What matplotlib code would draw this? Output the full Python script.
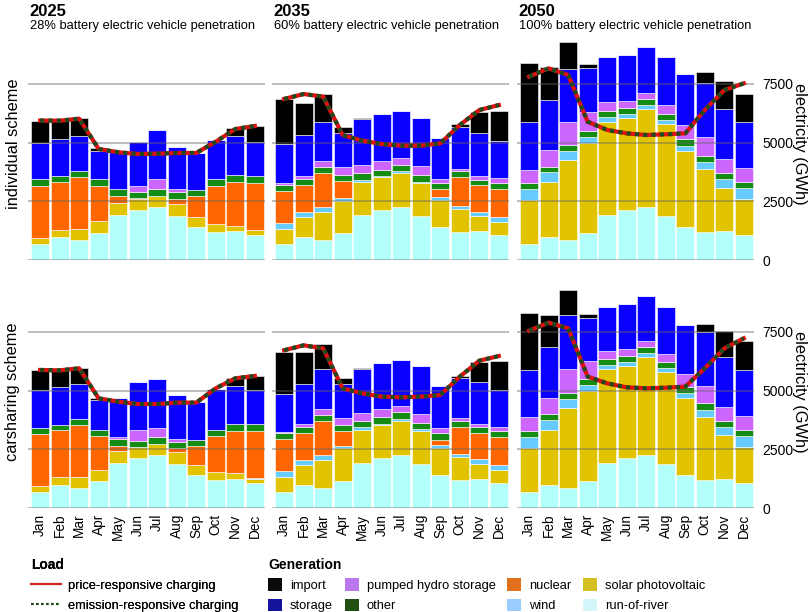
import numpy as np
import matplotlib
matplotlib.use("Agg")
import matplotlib.pyplot as plt
from matplotlib.lines import Line2D
from matplotlib.patches import Patch

plt.rcParams["font.family"] = ["Liberation Sans", "DejaVu Sans"]

months = ["Jan", "Feb", "Mar", "Apr", "May", "Jun",
          "Jul", "Aug", "Sep", "Oct", "Nov", "Dec"]
years = ["2025", "2035", "2050"]
subtitles = ["28% battery electric vehicle penetration",
             "60% battery electric vehicle penetration",
             "100% battery electric vehicle penetration"]
schemes = ["individual scheme", "carsharing scheme"]

# stacking order, bottom to top
sources = ["run-of-river", "solar photovoltaic", "wind", "nuclear",
           "other", "pumped hydro storage", "storage", "import"]
bar_colors = ["#b3fffb", "#e2c300", "#66ccff", "#ff6600",
              "#148c14", "#cc66ff", "#0a00ff", "#000000"]
legend_colors = {"import": "#0a0a0a", "storage": "#14149a",
                 "pumped hydro storage": "#bb77ee", "other": "#1f5012",
                 "nuclear": "#e0701c", "wind": "#99ccff",
                 "solar photovoltaic": "#d4c020", "run-of-river": "#d4f6fa"}

run_of_river = [680, 990, 866, 1164, 1917, 2116, 2244, 1889, 1420, 1193, 1235, 1051]
zeros = [0] * 12

# individual scheme, 2025
ind25_solar = [240, 284, 440, 497, 497, 483, 497, 482, 412, 326, 228, 213]
ind25_wind = [20, 15, 0, 0, 0, 0, 0, 0, 0, 0, 0, 28]
ind25_nuclear = [2220, 2030, 2216, 1491, 312, 28, 0, 242, 880, 1648, 1874, 2002]
ind25_other = [270, 241, 269, 284, 284, 270, 284, 284, 270, 269, 284, 284]
ind25_pumped = [0, 0, 0, 0, 0, 255, 426, 128, 0, 0, 0, 0]
ind25_storage = [1575, 1605, 1491, 1222, 1633, 1889, 2073, 1803, 1590, 1676, 1647, 1435]
ind25_import = [924, 782, 753, 127, 0, 0, 0, 0, 0, 0, 341, 681]
ind25_load = [5940, 5935, 6020, 4730, 4590, 4515, 4530, 4560, 4560, 5040, 5580, 5710]

# individual scheme, 2035
ind35_solar = [655, 838, 1193, 1349, 1406, 1406, 1476, 1377, 1136, 965, 654, 554]
ind35_wind = [241, 198, 199, 128, 85, 56, 57, 71, 114, 128, 170, 213]
ind35_nuclear = [1363, 1179, 1448, 724, 0, 0, 0, 0, 340, 1236, 1122, 1192]
ind35_other = [256, 227, 256, 270, 284, 256, 270, 270, 256, 255, 241, 256]
ind35_pumped = [85, 156, 255, 313, 355, 383, 312, 397, 185, 114, 171, 213]
ind35_storage = [1662, 1719, 1676, 1448, 1960, 2003, 1974, 2045, 1746, 1761, 1803, 1590]
ind35_import = [1917, 1377, 1164, 284, 28, 0, 0, 0, 0, 142, 895, 1293]
ind35_load = [6860, 7070, 6960, 5325, 5085, 4940, 4870, 4870, 4970, 5750, 6390, 6600]

# individual scheme, 2050
ind50_solar = [1876, 2329, 3394, 3820, 3976, 3947, 4174, 3905, 3238, 2669, 1846, 1533]
ind50_wind = [469, 411, 383, 256, 213, 171, 171, 156, 213, 313, 355, 483]
ind50_other = [269, 242, 256, 255, 256, 255, 255, 255, 269, 270, 270, 256]
ind50_pumped = [540, 696, 966, 796, 383, 299, 284, 398, 611, 781, 582, 596]
ind50_storage = [2059, 2158, 2272, 1902, 1903, 1945, 1946, 2031, 2158, 2300, 2145, 1946]
ind50_import = [2485, 1392, 1136, 157, 0, 0, 0, 0, 0, 469, 1207, 1221]
ind50_load = [7810, 8165, 7880, 5890, 5540, 5395, 5325, 5355, 5395, 6390, 7240, 7525]

# carsharing scheme, 2025
car25_solar = [240, 310, 438, 466, 495, 466, 494, 480, 410, 339, 255, 198]
car25_wind = [15, 10, 0, 0, 0, 0, 0, 0, 0, 0, 0, 28]
car25_nuclear = [2230, 2005, 2217, 1454, 240, 28, 0, 184, 819, 1539, 1807, 2019]
car25_other = [254, 240, 254, 240, 268, 240, 269, 268, 254, 268, 268, 268]
car25_pumped = [0, 0, 0, 0, 85, 452, 409, 127, 0, 0, 0, 0]
car25_storage = [1609, 1596, 1498, 1297, 1692, 2064, 2078, 1849, 1592, 1723, 1653, 1483]
car25_import = [852, 725, 682, 85, 0, 0, 0, 0, 0, 0, 313, 596]
car25_load = [5880, 5865, 5950, 4670, 4530, 4430, 4430, 4490, 4490, 5100, 5525, 5625]

# carsharing scheme, 2035
car35_solar = [655, 838, 1193, 1378, 1420, 1406, 1462, 1391, 1150, 965, 654, 568]
car35_wind = [241, 198, 199, 113, 99, 71, 100, 71, 128, 157, 184, 227]
car35_nuclear = [1363, 1179, 1448, 625, 0, 0, 0, 0, 213, 1150, 1108, 1164]
car35_other = [270, 256, 270, 256, 270, 269, 269, 284, 270, 255, 270, 256]
car35_pumped = [40, 127, 255, 312, 327, 341, 270, 384, 241, 100, 142, 199]
car35_storage = [1607, 1704, 1676, 1449, 1903, 1974, 1946, 2030, 1775, 1732, 1789, 1562]
car35_import = [1790, 1364, 1079, 255, 40, 0, 0, 0, 0, 57, 823, 1221]
car35_load = [6720, 6930, 6800, 5100, 4885, 4745, 4715, 4745, 4815, 5595, 6275, 6475]

# carsharing scheme, 2050
car50_solar = [1862, 2343, 3408, 3820, 3990, 3947, 4174, 3919, 3252, 2698, 1861, 1562]
car50_wind = [497, 426, 384, 270, 185, 171, 171, 156, 213, 298, 355, 454]
car50_other = [255, 227, 255, 256, 255, 241, 255, 270, 255, 270, 255, 256]
car50_pumped = [568, 696, 1008, 752, 341, 298, 270, 341, 554, 738, 582, 610]
car50_storage = [2017, 2158, 2287, 1818, 1889, 1903, 1917, 2002, 2088, 2301, 2145, 1960]
car50_import = [2414, 1378, 1079, 170, 0, 0, 0, 0, 0, 326, 1121, 1221]
car50_load = [7555, 7895, 7655, 5595, 5310, 5140, 5100, 5125, 5170, 5950, 6800, 7230]

panels = [
    [([run_of_river, ind25_solar, ind25_wind, ind25_nuclear, ind25_other,
       ind25_pumped, ind25_storage, ind25_import], ind25_load),
     ([run_of_river, ind35_solar, ind35_wind, ind35_nuclear, ind35_other,
       ind35_pumped, ind35_storage, ind35_import], ind35_load),
     ([run_of_river, ind50_solar, ind50_wind, zeros, ind50_other,
       ind50_pumped, ind50_storage, ind50_import], ind50_load)],
    [([run_of_river, car25_solar, car25_wind, car25_nuclear, car25_other,
       car25_pumped, car25_storage, car25_import], car25_load),
     ([run_of_river, car35_solar, car35_wind, car35_nuclear, car35_other,
       car35_pumped, car35_storage, car35_import], car35_load),
     ([run_of_river, car50_solar, car50_wind, zeros, car50_other,
       car50_pumped, car50_storage, car50_import], car50_load)],
]

fig = plt.figure(figsize=(8.1, 6.12), dpi=100)

lefts = [28 / 810, 272 / 810, 517 / 810]
bottoms = [1 - 260 / 612, 1 - 508 / 612]
width = 237 / 810
height = 223 / 612
x = np.arange(12)
gridvals = [0, 2500, 5000, 7500]

for r in range(2):
    for c in range(3):
        stack, load = panels[r][c]
        ax = fig.add_axes([lefts[c], bottoms[r], width, height])
        base = np.zeros(12)
        for vals, col in zip(stack, bar_colors):
            vals = np.array(vals, dtype=float)
            ax.bar(x, vals, 0.92, bottom=base, color=col,
                   edgecolor="white", linewidth=0.4, zorder=2)
            base += vals
        for g in gridvals:
            ax.axhline(g, color="#666666", alpha=0.5, lw=1.2, zorder=3)
        ax.plot(x, load, color="#e01010", lw=3, zorder=4)
        ax.plot(x, load, color="#1f4a1f", lw=3, ls=(0, (1, 1)), zorder=5)

        ax.set_xlim(-0.62, 11.52)
        ax.set_ylim(0, 9500)
        for s in ax.spines.values():
            s.set_visible(False)
        ax.set_xticks(x)
        if r == 1:
            ax.set_xticklabels(months, rotation=90, fontsize=9.8)
        else:
            ax.set_xticklabels([])
        ax.tick_params(axis="x", length=0, pad=4)
        if c == 2:
            ax.yaxis.tick_right()
            ax.set_yticks(gridvals)
            ax.set_yticklabels([str(g) for g in gridvals], fontsize=10)
            ax.tick_params(axis="y", length=0, pad=6)
            fig.text(799 / 810, bottoms[r] + height * 0.52, "electricity (GWh)",
                     rotation=270, fontsize=11.8, ha="center", va="center")
        else:
            ax.set_yticks([])
        if r == 0:
            fig.text(lefts[c] + 1 / 810, 1 - 12 / 612, years[c],
                     fontsize=12, fontweight="bold", va="center")
            fig.text(lefts[c] + 2 / 810, 1 - 26 / 612, subtitles[c],
                     fontsize=9.3, va="center")
        if c == 0:
            fig.text(13 / 810, bottoms[r] + height * 0.52, schemes[r],
                     rotation=90, fontsize=11.8, ha="center", va="center")

# legends
load_handles = [Line2D([], [], color="#cc2222", lw=1.5),
                Line2D([], [], color="#1f4a1f", lw=1.5, ls=(0, (1.2, 1.2)))]
leg1 = fig.legend(load_handles,
                  ["price-responsive charging", "emission-responsive charging"],
                  title="Load", loc="upper left",
                  bbox_to_anchor=(31 / 810, 1 - 558 / 612),
                  frameon=False, alignment="left", fontsize=9.3,
                  title_fontproperties={"weight": "bold", "size": 10},
                  handlelength=2.3, handletextpad=0.6, labelspacing=0.6,
                  borderpad=0, borderaxespad=0)

gen_order = ["import", "storage", "pumped hydro storage", "other",
             "nuclear", "wind", "solar photovoltaic", "run-of-river"]
gen_handles = [Patch(facecolor=legend_colors[s], edgecolor="none") for s in gen_order]
leg2 = fig.legend(gen_handles, gen_order, title="Generation", ncol=4,
                  loc="upper left", bbox_to_anchor=(268 / 810, 1 - 558 / 612),
                  frameon=False, alignment="left", fontsize=9.3,
                  title_fontproperties={"weight": "bold", "size": 10},
                  handlelength=1.1, handleheight=1.1, handletextpad=0.6,
                  columnspacing=0.9, labelspacing=0.5,
                  borderpad=0, borderaxespad=0)
fig.add_artist(leg1)

fig.savefig("out.png", dpi=100)
